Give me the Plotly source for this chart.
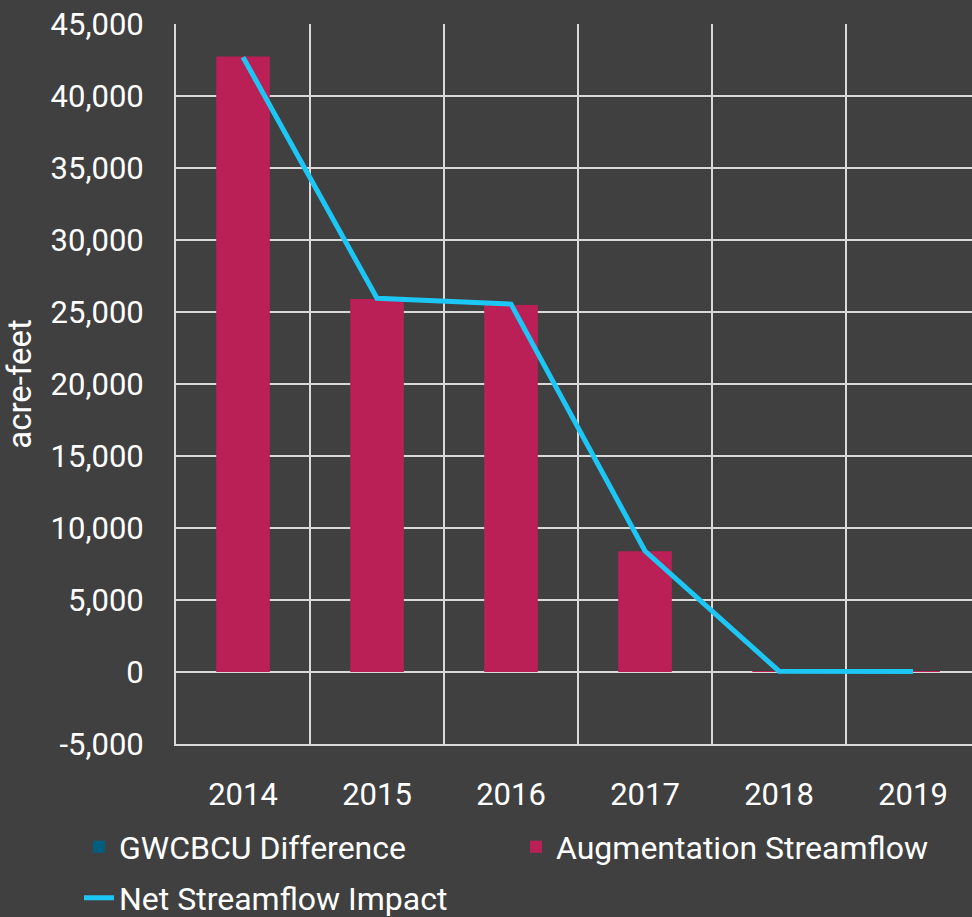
import plotly.graph_objects as go

years = ["2014", "2015", "2016", "2017", "2018", "2019"]
gwcbcu_difference = [0, 0, 0, 0, 0, 0]
augmentation_streamflow = [42750, 25900, 25480, 8380, 60, 60]
net_streamflow_impact = [42700, 25950, 25550, 8400, 60, 40]

y_ticks = [-5000, 0, 5000, 10000, 15000, 20000, 25000, 30000, 35000, 40000, 45000]
y_tick_text = ["-5,000", "0", "5,000", "10,000", "15,000", "20,000",
               "25,000", "30,000", "35,000", "40,000", "45,000"]

BG = "#404040"
GRID = "#D9D9D9"
FONT = dict(family="Roboto", size=31, color="white")

fig = go.Figure()

fig.add_trace(
    go.Bar(
        x=years,
        y=gwcbcu_difference,
        name="GWCBCU Difference",
        marker=dict(color="#005F80", line_width=0),
        width=0.4,
        legend="legend",
        showlegend=True,
    )
)

fig.add_trace(
    go.Bar(
        x=years,
        y=augmentation_streamflow,
        name="Augmentation Streamflow",
        marker=dict(color="#BA1F55", line_width=0),
        width=0.4,
        legend="legend2",
        showlegend=True,
    )
)

fig.add_trace(
    go.Scatter(
        x=years,
        y=net_streamflow_impact,
        name="Net Streamflow Impact",
        mode="lines",
        line=dict(color="#1CC6F5", width=5),
        legend="legend3",
        showlegend=True,
    )
)

# one legend per entry so each can sit where the reference puts it
legend_style = dict(
    orientation="h",
    xref="container",
    yref="container",
    xanchor="left",
    yanchor="middle",
    font=dict(family="Roboto", size=32, color="white"),
    bgcolor="rgba(0,0,0,0)",
    itemwidth=30,
)

fig.update_layout(
    width=972,
    height=917,
    barmode="overlay",
    showlegend=True,
    paper_bgcolor=BG,
    plot_bgcolor=BG,
    font=FONT,
    margin=dict(l=176, r=0, t=24, b=173),
    legend=dict(legend_style, x=79 / 972, y=1 - 847 / 917),
    legend2=dict(legend_style, x=516 / 972, y=1 - 847 / 917),
    legend3=dict(legend_style, x=79 / 972, y=1 - 898 / 917),
)

fig.update_xaxes(
    type="category",
    range=[-0.5, 5.44],
    tickson="boundaries",
    showgrid=True,
    gridcolor=GRID,
    gridwidth=2,
    ticks="",
    showline=True,
    linecolor=GRID,
    linewidth=2,
    zeroline=False,
    ticklabelstandoff=22,
    tickfont=FONT,
)

fig.update_yaxes(
    range=[-5000, 45000],
    tickvals=y_ticks,
    ticktext=y_tick_text,
    showgrid=True,
    gridcolor=GRID,
    gridwidth=2,
    zeroline=False,
    showline=True,
    linecolor=GRID,
    linewidth=2,
    ticks="",
    ticklabelstandoff=24,
    tickfont=FONT,
    title=dict(text="acre-feet", font=dict(family="Roboto", size=33, color="white"), standoff=10),
)

fig.write_html(
    "out.html",
    config={"displayModeBar": False},
    post_script="document.body.style.margin='0';",
)
